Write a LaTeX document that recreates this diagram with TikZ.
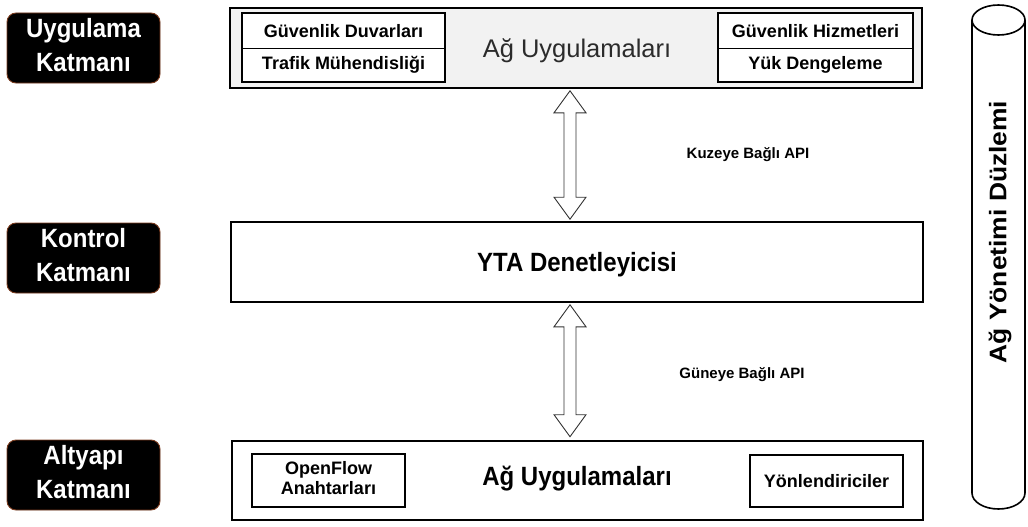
\documentclass[tikz,border=0pt]{standalone}
\usepackage{fontspec}
\usepackage{graphicx}
\setmainfont{Liberation Sans}
\usetikzlibrary{calc}

\definecolor{tagedge}{HTML}{7A3B1E}
\definecolor{appgray}{HTML}{F2F2F2}
\definecolor{apptext}{HTML}{2B2B2B}

% taller glyphs for the large headings
\newcommand{\tall}[1]{\scalebox{1}[1.1]{#1}}
\newcommand{\twolines}[2]{\begin{tabular}{@{}c@{}}#1\\#2\end{tabular}}
% outlined double-headed API arrow between two coordinates (top, bottom)
\newcommand{\bidir}[2]{%
  \draw[apiarrow] (#1) -- ($(#1)+(16,22)$) -- ($(#1)+(6,22)$) -- ($(#2)+(6,-22)$)
    -- ($(#2)+(16,-22)$) -- (#2) -- ($(#2)+(-16,-22)$) -- ($(#2)+(-6,-22)$)
    -- ($(#1)+(-6,22)$) -- ($(#1)+(-16,22)$) -- cycle;}

\begin{document}
\begin{tikzpicture}[x=1pt,y=-1pt,
  layerbox/.style={draw=black, line width=2.6pt, minimum width=692pt,
    minimum height=80pt, inner sep=0pt},
  subbox/.style={draw=black, line width=1.3pt, fill=white, inner sep=0pt,
    font=\bfseries\fontsize{18}{20}\selectfont},
  tag/.style={fill=black, draw=tagedge, line width=0.9pt, rounded corners=9pt,
    minimum width=153pt, minimum height=70pt, inner sep=0pt, text=white,
    font=\bfseries\fontsize{24}{31}\selectfont},
  bigtext/.style={font=\bfseries\fontsize{24}{28}\selectfont, inner sep=0pt, anchor=base},
  apilabel/.style={font=\bfseries\fontsize{15}{18}\selectfont, inner sep=0pt},
  apiarrow/.style={draw=black!80, line width=0.9pt, fill=white, line join=miter},
  cyl/.style={draw=black, line width=1.6pt, fill=white}
]
\useasboundingbox (0,0) rectangle (1028,527);

% layer tags on the left
\node[tag] (uk) at (83.5,48)  {\tall{\twolines{Uygulama}{Katmanı}}};
\node[tag] (kk) at (83.5,258) {\tall{\twolines{Kontrol}{Katmanı}}};
\node[tag] (ak) at (83.5,475) {\tall{\twolines{Altyapı}{Katmanı}}};

% application layer
\node[layerbox, fill=appgray] (app) at (576,48) {};
\node[inner sep=0pt, anchor=base, text=apptext, font=\fontsize{25.5}{28}\selectfont]
  (appT) at (577,58) {Ağ Uygulamaları};
\node[subbox, minimum width=203pt, minimum height=35.5pt] (gd) at (343.5,30.75) {Güvenlik Duvarları};
\node[subbox, minimum width=203pt, minimum height=33.5pt] (tm) at (343.5,65.25) {Trafik Mühendisliği};
\node[subbox, minimum width=195pt, minimum height=35.5pt] (gh) at (815.5,30.75) {Güvenlik Hizmetleri};
\node[subbox, minimum width=195pt, minimum height=33.5pt] (yd) at (815.5,65.25) {Yük Dengeleme};

% control layer
\node[layerbox, fill=white] (ctl) at (577,262) {};
\node[bigtext] (ctlT) at (577,271) {\tall{YTA Denetleyicisi}};

% infrastructure layer
\node[layerbox, fill=white, minimum width=691pt, minimum height=79pt] (inf) at (577.5,480.5) {};
\node[bigtext] (infT) at (577,485) {\tall{Ağ Uygulamaları}};
\node[subbox, minimum width=153pt, minimum height=53pt] (of) at (328.5,480.5)
  {\twolines{OpenFlow}{Anahtarları}};
\node[subbox, minimum width=153pt, minimum height=52pt] (yn) at (826.5,481) {Yönlendiriciler};

% northbound / southbound interfaces
\coordinate (nTop) at ($(app.south)+(-6,1.5)$);
\coordinate (nBot) at ($(ctl.north)+(-7,-1.5)$);
\coordinate (sTop) at ($(ctl.south)+(-7,1.5)$);
\coordinate (sBot) at ($(inf.north)+(-7.5,-3)$);
\bidir{nTop}{nBot}
\bidir{sTop}{sBot}
\node[apilabel] (nApi) at (748,155) {Kuzeye Bağlı API};
\node[apilabel] (sApi) at (742,375) {Güneye Bağlı API};

% management plane cylinder
\draw[cyl] (972,20) -- (972,493) arc[start angle=180, end angle=0, x radius=26.5, y radius=16]
  -- (1025,20);
\draw[cyl] (998.5,20) ellipse[x radius=26.5, y radius=15];
\node[rotate=90, inner sep=0pt, font=\bfseries\fontsize{24}{28}\selectfont]
  (mgmt) at (1000,232) {\scalebox{1.1}[1]{Ağ Yönetimi Düzlemi}};
\end{tikzpicture}
\end{document}
